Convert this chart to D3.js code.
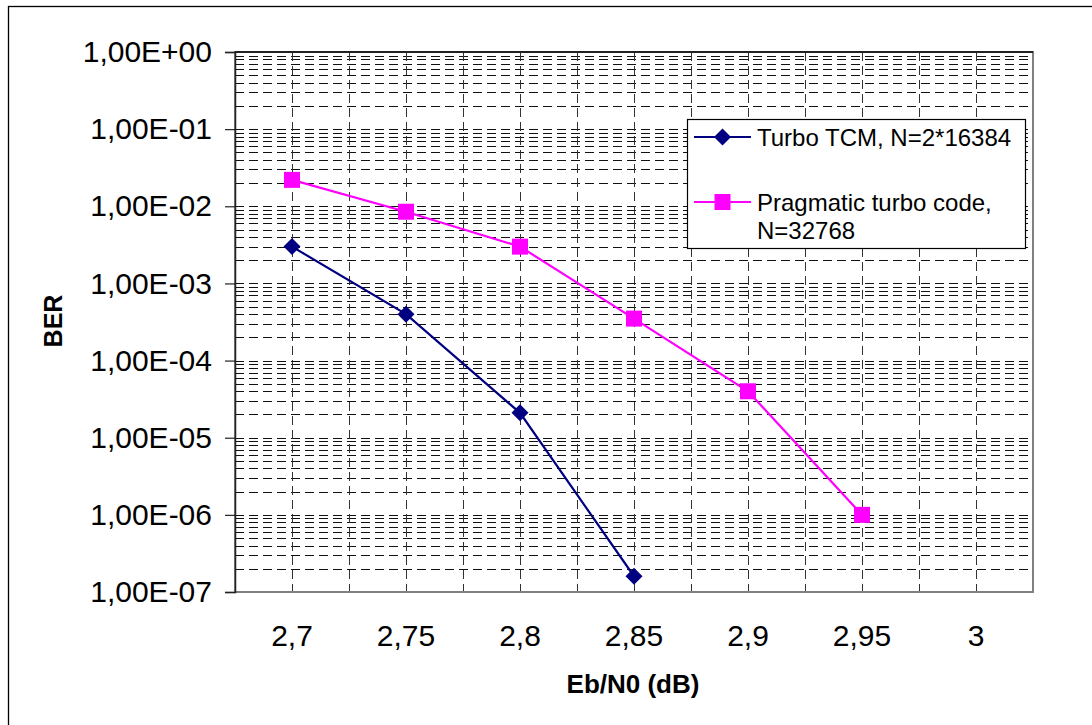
<!DOCTYPE html>
<html>
<head>
<meta charset="utf-8">
<script src="https://cdn.jsdelivr.net/npm/d3@7"></script>
<style>
  body { margin: 0; background: #fff; overflow: hidden; }
  text { font-family: Arial, "Liberation Sans", sans-serif; fill: #000; }
</style>
</head>
<body>
<div id="chart"></div>
<script>
// categories on the x axis (Eb/N0 in dB)
var ebn0 = [2.7, 2.75, 2.8, 2.85, 2.9, 2.95, 3];
var xTickLabels = ["2,7", "2,75", "2,8", "2,85", "2,9", "2,95", "3"];

// BER values
var tcmBer = [3e-3, 4e-4, 2.1e-5, 1.6e-7];
var pragBer = [2.2e-2, 8.5e-3, 3e-3, 3.5e-4, 4e-5, 1e-6];

var yTicks = [1, 1e-1, 1e-2, 1e-3, 1e-4, 1e-5, 1e-6, 1e-7];
var yTickLabels = ["1,00E+00", "1,00E-01", "1,00E-02", "1,00E-03", "1,00E-04", "1,00E-05", "1,00E-06", "1,00E-07"];

var seriesNames = ["Turbo TCM, N=2*16384", "Pragmatic turbo code,|N=32768"];

var svgWidth = 1092;
var svgHeight = 725;

var margin = { top: 52, right: 59, bottom: 133, left: 235 };
var width = svgWidth - margin.left - margin.right;
var height = svgHeight - margin.top - margin.bottom;

var svg = d3.select("#chart")
    .append("svg")
    .attr("width", svgWidth)
    .attr("height", svgHeight)
    .style("display", "block");

// outer chart frame (only top and left edges fall inside the picture)
svg.append("rect")
    .attr("x", 8.5)
    .attr("y", 6.5)
    .attr("width", 1200)
    .attr("height", 900)
    .attr("fill", "none")
    .attr("stroke", "#000")
    .attr("stroke-width", 1.3);

var chartGroup = svg.append("g")
    .attr("transform", `translate(${margin.left}, ${margin.top})`);

// scales
var xScale = d3.scaleBand()
    .domain(ebn0)
    .range([0, width])
    .padding(0);
var xMid = d => xScale(d) + xScale.bandwidth() / 2;

var yScale = d3.scaleLog()
    .domain([1e-7, 1])
    .range([height, 0]);

// horizontal gridlines at every 1..9 x 10^n
var hGrid = [];
for (var e = -7; e < 0; e++) {
    for (var k = 1; k < 10; k++) hGrid.push(k * Math.pow(10, e));
}
chartGroup.append("g")
    .selectAll("line")
    .data(hGrid)
    .enter()
    .append("line")
    .attr("x1", 0)
    .attr("x2", width)
    .attr("y1", d => Math.round(yScale(d)) + 0.5)
    .attr("y2", d => Math.round(yScale(d)) + 0.5)
    .attr("stroke", "#111")
    .attr("stroke-width", 1)
    .attr("stroke-dasharray", "9,5");

// vertical gridlines at category edges and centres
var vGrid = [];
ebn0.forEach(function(d) {
    vGrid.push(xScale(d));
    vGrid.push(xMid(d));
});
chartGroup.append("g")
    .selectAll("line")
    .data(vGrid.slice(1))
    .enter()
    .append("line")
    .attr("x1", d => Math.round(d) + 0.5)
    .attr("x2", d => Math.round(d) + 0.5)
    .attr("y1", 0)
    .attr("y2", height)
    .attr("stroke", "#333")
    .attr("stroke-width", 1)
    .attr("stroke-dasharray", "9,5");

// plot area border
chartGroup.append("rect")
    .attr("x", 0)
    .attr("y", 0)
    .attr("width", width)
    .attr("height", height)
    .attr("fill", "none")
    .attr("stroke", "#808080")
    .attr("stroke-width", 2);

chartGroup.append("line")
    .attr("x1", 0).attr("x2", width)
    .attr("y1", 0).attr("y2", 0)
    .attr("stroke", "#222")
    .attr("stroke-width", 2);

// axes
var leftAxis = d3.axisLeft(yScale)
    .tickValues(yTicks)
    .tickSize(10)
    .tickPadding(13)
    .tickFormat((d, i) => yTickLabels[i]);

var bottomAxis = d3.axisBottom(xScale)
    .tickSize(0)
    .tickPadding(33)
    .tickFormat((d, i) => xTickLabels[i]);

var yAxisG = chartGroup.append("g").call(leftAxis);
yAxisG.select(".domain").attr("stroke", "#222").attr("stroke-width", 1.5);
yAxisG.selectAll(".tick line").attr("stroke", "#222").attr("stroke-width", 1.2);
yAxisG.selectAll("text")
    .style("font-size", "30px")
    .style("font-family", "Arial, 'Liberation Sans', sans-serif");

var xAxisG = chartGroup.append("g")
    .attr("transform", `translate(0, ${height})`)
    .call(bottomAxis);
xAxisG.select(".domain").remove();
xAxisG.selectAll("text")
    .style("font-size", "30px")
    .style("font-family", "Arial, 'Liberation Sans', sans-serif");

// series lines
var line = d3.line()
    .x(d => xMid(d.x))
    .y(d => yScale(d.y));

var tcmData = tcmBer.map((v, i) => ({ x: ebn0[i], y: v }));
var pragData = pragBer.map((v, i) => ({ x: ebn0[i], y: v }));

chartGroup.append("path")
    .datum(pragData)
    .attr("d", line)
    .attr("fill", "none")
    .attr("stroke", "#ff00ff")
    .attr("stroke-width", 2.2);

chartGroup.append("path")
    .datum(tcmData)
    .attr("d", line)
    .attr("fill", "none")
    .attr("stroke", "#000080")
    .attr("stroke-width", 2.2);

// markers
chartGroup.selectAll(".sq")
    .data(pragData)
    .enter()
    .append("rect")
    .attr("class", "sq")
    .attr("x", d => xMid(d.x) - 8)
    .attr("y", d => yScale(d.y) - 8)
    .attr("width", 16)
    .attr("height", 16)
    .attr("fill", "#ff00ff");

var diamond = "M0,-8.5L8.5,0L0,8.5L-8.5,0Z";
chartGroup.selectAll(".dm")
    .data(tcmData)
    .enter()
    .append("path")
    .attr("class", "dm")
    .attr("transform", d => `translate(${xMid(d.x)}, ${yScale(d.y)})`)
    .attr("d", diamond)
    .attr("fill", "#000080");

// axis titles
svg.append("text")
    .attr("transform", "translate(62, 321) rotate(-90)")
    .attr("text-anchor", "middle")
    .style("font-size", "25px")
    .style("font-weight", "bold")
    .text("BER");

svg.append("text")
    .attr("x", 633)
    .attr("y", 693)
    .attr("text-anchor", "middle")
    .style("font-size", "26px")
    .style("font-weight", "bold")
    .text("Eb/N0 (dB)");

// legend
var legend = svg.append("g");
legend.append("rect")
    .attr("x", 687.5)
    .attr("y", 119.5)
    .attr("width", 338)
    .attr("height", 129)
    .attr("fill", "#fff")
    .attr("stroke", "#000")
    .attr("stroke-width", 1.2);

var legendColors = ["#000080", "#ff00ff"];
var legendY = [137, 202];

legendY.forEach(function(ly, i) {
    legend.append("line")
        .attr("x1", 694).attr("x2", 751)
        .attr("y1", ly).attr("y2", ly)
        .attr("stroke", legendColors[i])
        .attr("stroke-width", 2.2);
    if (i === 0) {
        legend.append("path")
            .attr("transform", `translate(722.5, ${ly})`)
            .attr("d", diamond)
            .attr("fill", legendColors[i]);
    } else {
        legend.append("rect")
            .attr("x", 714.5).attr("y", ly - 8)
            .attr("width", 16).attr("height", 16)
            .attr("fill", legendColors[i]);
    }
    var t = legend.append("text")
        .attr("x", 757)
        .attr("y", ly + 9)
        .style("font-size", "24px");
    seriesNames[i].split("|").forEach(function(part, j) {
        t.append("tspan")
            .attr("x", 757)
            .attr("dy", j === 0 ? 0 : 28)
            .text(part);
    });
});
</script>
</body>
</html>
